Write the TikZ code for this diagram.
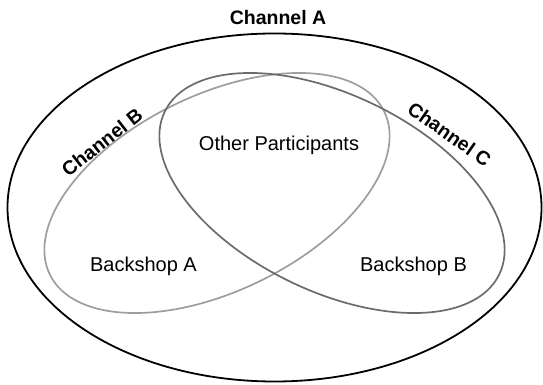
\documentclass[tikz,border=0pt]{standalone}
\usepackage{fontspec}
\setmainfont{Liberation Sans}
\begin{document}
\begin{tikzpicture}[x=1pt,y=1pt,
  outerset/.style={draw=black,line width=1.8pt},
  setb/.style={draw=black!38,line width=1.7pt},
  setc/.style={draw=black!58,line width=1.7pt},
  chan/.style={font=\fontsize{19.5}{23}\selectfont\bfseries,inner sep=0pt},
  area/.style={font=\fontsize{20}{24}\selectfont,inner sep=0pt}]
\useasboundingbox (0,0) rectangle (543,385);
% sets
\draw[outerset] (274.5,177.5) ellipse [x radius=267, y radius=174];
\draw[setb,rotate around={26:(217,192)}] (217,192) ellipse [x radius=186, y radius=98];
\draw[setc,rotate around={-26:(332,192)}] (332,192) ellipse [x radius=186, y radius=98];
% labels
\node[chan] (chA) at (278,367) {Channel A};
\node[chan,rotate=38] (chB) at (102,243) {Channel B};
\node[chan,rotate=-35] (chC) at (449.5,251) {Channel C};
\node[area] (other) at (279,240) {Other Participants};
\node[area] (bsA) at (143.5,119) {Backshop A};
\node[area] (bsB) at (413.5,119) {Backshop B};
\end{tikzpicture}
\end{document}
